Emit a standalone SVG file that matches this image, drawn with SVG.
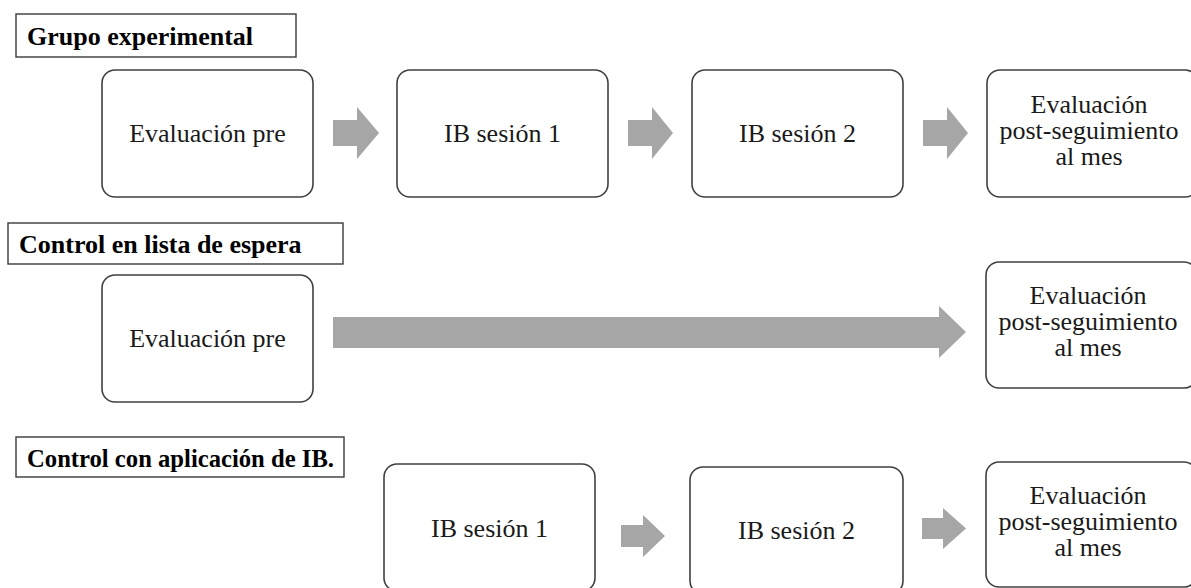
<svg xmlns="http://www.w3.org/2000/svg" width="1191" height="588" viewBox="0 0 1191 588">
<style>
.title{fill:#fff;stroke:#3a3a3a;stroke-width:1.4}
.tt{font-family:"Liberation Serif","Times New Roman",serif;font-weight:bold;font-size:26px;fill:#000}
.box{fill:#fff;stroke:#404040;stroke-width:1.6}
.lbl{font-family:"Liberation Serif","Times New Roman",serif;font-size:26px;fill:#1a1a1a;text-anchor:middle}
.arr{fill:#a6a6a6;stroke:none}
</style>
<rect width="1191" height="588" fill="#fff"/>
<g id="title-grupo-experimental">
<rect class="title" x="16" y="14" width="280" height="43"/>
<text class="tt" x="27" y="45">Grupo experimental</text>
</g>
<g id="title-control-lista">
<rect class="title" x="8" y="223" width="335" height="41"/>
<text class="tt" x="19" y="253">Control en lista de espera</text>
</g>
<g id="title-control-ib">
<rect class="title" x="16" y="437" width="328" height="40"/>
<text class="tt" x="27" y="467" textLength="307" lengthAdjust="spacingAndGlyphs">Control con aplicación de IB.</text>
</g>
<g id="g1-eval-pre">
<rect class="box" x="102" y="70" width="211" height="127" rx="13"/>
<text class="lbl" x="207.5" y="142">Evaluación pre</text>
</g>
<g id="g1-ib1">
<rect class="box" x="397" y="70" width="211" height="127" rx="13"/>
<text class="lbl" x="502.5" y="142">IB sesión 1</text>
</g>
<g id="g1-ib2">
<rect class="box" x="692" y="70" width="211" height="127" rx="13"/>
<text class="lbl" x="797.5" y="142">IB sesión 2</text>
</g>
<g id="g1-post">
<rect class="box" x="987" y="70" width="211" height="127" rx="13"/>
<text class="lbl" x="1089" y="113">Evaluación</text>
<text class="lbl" x="1089" y="139">post-seguimiento</text>
<text class="lbl" x="1089" y="165">al mes</text>
</g>
<g id="g2-eval-pre">
<rect class="box" x="102" y="275" width="211" height="127" rx="13"/>
<text class="lbl" x="207.5" y="347">Evaluación pre</text>
</g>
<g id="g2-post">
<rect class="box" x="986" y="262" width="211" height="126" rx="13"/>
<text class="lbl" x="1088" y="304">Evaluación</text>
<text class="lbl" x="1088" y="330">post-seguimiento</text>
<text class="lbl" x="1088" y="356">al mes</text>
</g>
<g id="g3-ib1">
<rect class="box" x="384" y="464" width="211" height="127" rx="13"/>
<text class="lbl" x="489.5" y="537">IB sesión 1</text>
</g>
<g id="g3-ib2">
<rect class="box" x="690" y="467" width="213" height="127" rx="13"/>
<text class="lbl" x="796.5" y="539">IB sesión 2</text>
</g>
<g id="g3-post">
<rect class="box" x="986" y="462" width="211" height="125" rx="13"/>
<text class="lbl" x="1088" y="504">Evaluación</text>
<text class="lbl" x="1088" y="530">post-seguimiento</text>
<text class="lbl" x="1088" y="556">al mes</text>
</g>
<g id="connectors">
<polygon class="arr" points="333,120 357,120 357,107 379,133 357,159 357,146 333,146"/>
<polygon class="arr" points="628,120 652,120 652,107 673,133 652,159 652,146 628,146"/>
<polygon class="arr" points="923,120 947,120 947,107 968,133 947,159 947,146 923,146"/>
<polygon class="arr" points="333,317 939,317 939,306 966,332 939,358 939,348 333,348"/>
<polygon class="arr" points="621,525 643,525 643,515 665,536 643,557 643,547 621,547"/>
<polygon class="arr" points="922,518 943,518 943,508 966,528.5 943,549 943,539 922,539"/>
</g>
</svg>
